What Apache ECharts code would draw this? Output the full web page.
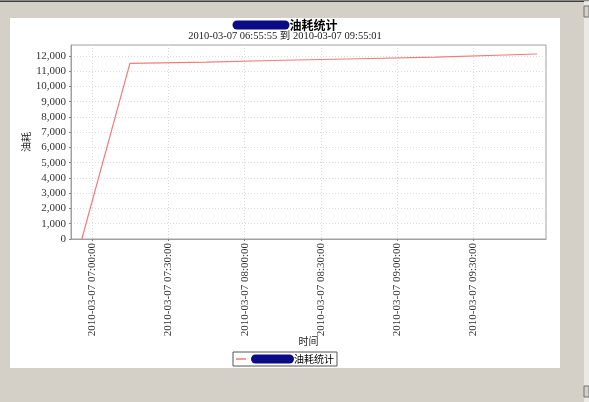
<!DOCTYPE html>
<html>
<head>
<meta charset="utf-8">
<script src="https://cdn.jsdelivr.net/npm/echarts@6/dist/echarts.min.js"></script>
<style>
html,body{margin:0;padding:0;background:#d4d0c8;}
#c{width:589px;height:402px;}
</style>
</head>
<body>
<div id="c"></div>
<script>
// ---- data ----
var seriesName = '油耗统计';
var times = ['2010-03-07 06:55:55', '2010-03-07 07:14:50', '2010-03-07 07:45:00', '2010-03-07 08:15:00', '2010-03-07 08:45:00', '2010-03-07 09:15:00', '2010-03-07 09:55:01'];
var fuel = [0, 11520, 11600, 11720, 11820, 11930, 12130];
var xTickLabels = ['2010-03-07 07:00:00', '2010-03-07 07:30:00', '2010-03-07 08:00:00', '2010-03-07 08:30:00', '2010-03-07 09:00:00', '2010-03-07 09:30:00'];
var yTicks = [0, 1000, 2000, 3000, 4000, 5000, 6000, 7000, 8000, 9000, 10000, 11000, 12000];
var xRange = ['2010-03-07 06:51:40', '2010-03-07 09:58:30'];
var yMax = 12721;
var subtitle = '2010-03-07 06:55:55 到 2010-03-07 09:55:01';

function toMs(s) {
  var p = s.split(/[- :]/).map(Number);
  return new Date(p[0], p[1] - 1, p[2], p[3], p[4], p[5]).getTime();
}
function pad(n) { return (n < 10 ? '0' : '') + n; }
function fmt(v) {
  var d = new Date(v);
  return d.getFullYear() + '-' + pad(d.getMonth() + 1) + '-' + pad(d.getDate()) + ' ' +
    pad(d.getHours()) + ':' + pad(d.getMinutes()) + ':' + pad(d.getSeconds());
}

var chart = echarts.init(document.getElementById('c'), null, {renderer: 'canvas'});
var blob = '#0b0b85';
var lineColor = '#f27c7c';
var serif = '"Liberation Serif", "Noto Sans CJK SC", serif';
var cjk = '"Noto Sans CJK SC", sans-serif';

var option = {
  animation: false,
  backgroundColor: '#d4d0c8',
  graphic: {
    elements: [
      {type: 'rect', z: -10, shape: {x: 0, y: 0, width: 589, height: 1}, style: {fill: '#8a8a8a'}},
      {type: 'rect', z: -10, shape: {x: 0, y: 1, width: 584, height: 1}, style: {fill: '#404040'}},
      {type: 'rect', z: -10, shape: {x: 10, y: 18, width: 550, height: 350}, style: {fill: '#ffffff'}},
      {type: 'rect', z: -10, shape: {x: 584, y: 2, width: 5, height: 400}, style: {fill: '#ebe9e4'}},
      {type: 'rect', z: -9, shape: {x: 584, y: 6, width: 5, height: 11}, style: {fill: '#d4d0c8', stroke: '#707070', lineWidth: 1}},
      {type: 'rect', z: -9, shape: {x: 584, y: 386, width: 5, height: 11}, style: {fill: '#d4d0c8', stroke: '#707070', lineWidth: 1}}
    ]
  },
  title: [
    {
      text: '{b|}' + seriesName,
      left: 280, top: 14, textAlign: 'center',
      textStyle: {
        fontSize: 12, fontWeight: 'bold', color: '#000', fontFamily: cjk,
        rich: {b: {width: 57, height: 9, backgroundColor: blob, borderRadius: 5}}
      }
    },
    {
      text: subtitle,
      left: 280, top: 26, textAlign: 'center',
      textStyle: {fontSize: 10.5, fontWeight: 'normal', color: '#222', fontFamily: serif}
    }
  ],
  legend: {
    left: 233, top: 352,
    data: [{name: seriesName, icon: 'rect'}],
    borderColor: '#555', borderWidth: 1, borderRadius: 0,
    padding: [2, 3, 2, 3],
    itemWidth: 10, itemHeight: 1.5, itemGap: 4,
    itemStyle: {color: lineColor},
    formatter: function (n) { return '{b|}' + n; },
    textStyle: {
      fontSize: 10, color: '#000', fontFamily: cjk,
      rich: {b: {width: 43, height: 9, backgroundColor: blob, borderRadius: 5}}
    }
  },
  grid: {
    left: 71, right: 43, top: 45, bottom: 163,
    show: true, borderColor: '#a0a0a0', borderWidth: 1, backgroundColor: '#fff'
  },
  xAxis: {
    type: 'value',
    min: toMs(xRange[0]), max: toMs(xRange[1]),
    name: '时间', nameLocation: 'middle', nameGap: 97, nameMoveOverlap: false,
    nameTextStyle: {fontSize: 10, color: '#222', fontFamily: cjk},
    axisLine: {show: true, onZero: false, lineStyle: {color: '#a0a0a0'}},
    axisTick: {show: true, length: 2, lineStyle: {color: '#808080'}, customValues: xTickLabels.map(toMs)},
    axisLabel: {
      customValues: xTickLabels.map(toMs),
      rotate: 90, margin: 4, fontSize: 11, color: '#333', fontFamily: serif,
      formatter: function (v) { return fmt(v); }
    },
    splitLine: {show: true, lineStyle: {color: '#dcdcdc', type: [1, 2], width: 1}}
  },
  yAxis: {
    type: 'value', min: 0, max: yMax,
    name: '油耗', nameLocation: 'middle', nameGap: 40, nameRotate: 90, nameMoveOverlap: false,
    nameTextStyle: {fontSize: 10, color: '#222', fontFamily: cjk},
    axisLine: {show: true, lineStyle: {color: '#a0a0a0'}},
    axisTick: {show: true, length: 2, lineStyle: {color: '#808080'}, customValues: yTicks},
    axisLabel: {
      customValues: yTicks,
      margin: 5, fontSize: 11, color: '#333', fontFamily: serif,
      formatter: function (v) { return v.toLocaleString('en-US'); }
    },
    splitLine: {show: true, lineStyle: {color: '#dcdcdc', type: [1, 2], width: 1}}
  },
  series: [{
    name: seriesName,
    type: 'line',
    data: times.map(function (t, i) { return [toMs(t), fuel[i]]; }),
    showSymbol: false, symbol: 'none',
    lineStyle: {color: lineColor, width: 1.2},
    itemStyle: {color: lineColor}
  }]
};
chart.setOption(option);
</script>
</body>
</html>
